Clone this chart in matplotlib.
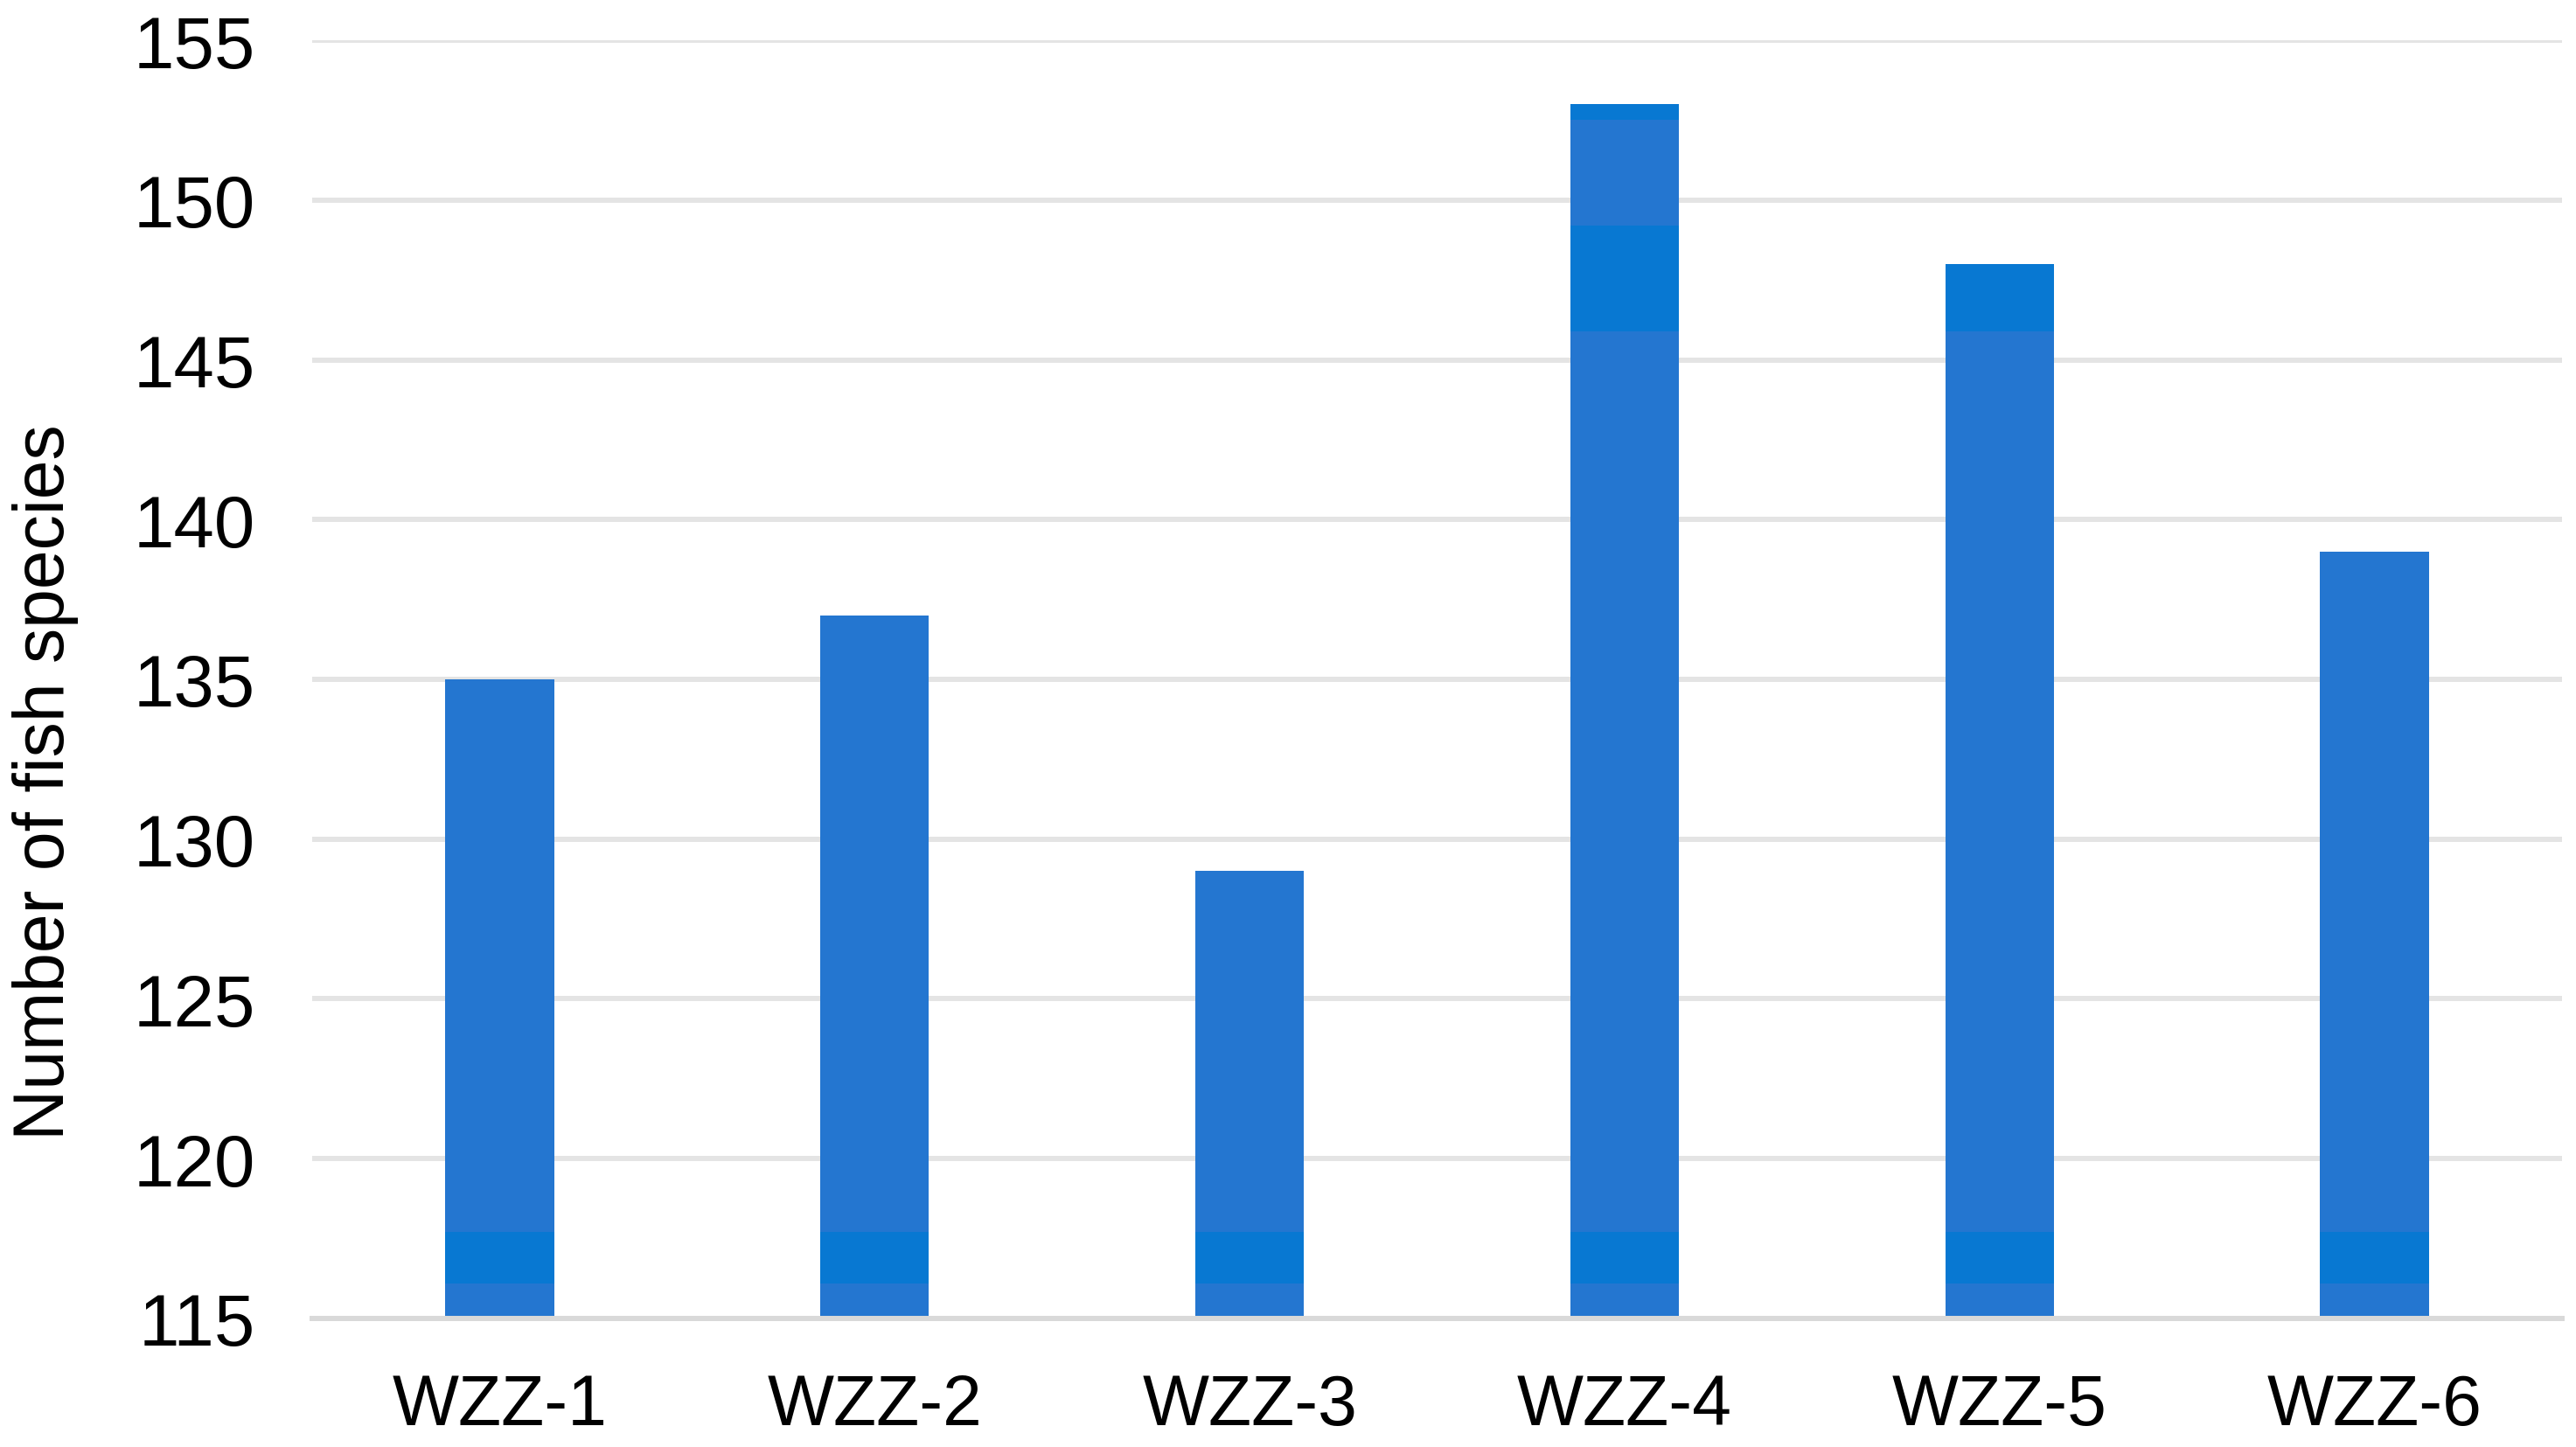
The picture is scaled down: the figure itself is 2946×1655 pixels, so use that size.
import matplotlib
matplotlib.use("Agg")
import matplotlib.pyplot as plt
import numpy as np

# data
sites = ["WZZ-1", "WZZ-2", "WZZ-3", "WZZ-4", "WZZ-5", "WZZ-6"]
species = [135, 137, 129, 153, 148, 139]
y_ticks = [115, 120, 125, 130, 135, 140, 145, 150, 155]

# slightly brighter stripes seen inside the bars of the original
stripes = [(116.1, 117.7), (145.9, 149.2), (152.5, 155.0)]

bar_color = "#2476D0"
stripe_color = "#0878D2"

plt.rcParams["font.family"] = ["Liberation Sans", "DejaVu Sans"]

fig = plt.figure(figsize=(29.46, 16.56), dpi=100)
ax = fig.add_axes([0.1212, 0.0888, 0.8734, 0.8828])

x = np.arange(len(sites))
width = 0.29
base = y_ticks[0]

ax.bar(x, np.array(species) - base, bottom=base, width=width,
       color=bar_color, zorder=3)

for lo, hi in stripes:
    tops = np.minimum(species, hi)
    heights = np.clip(tops - lo, 0, None)
    ax.bar(x, heights, bottom=lo, width=width, color=stripe_color, zorder=3)

ax.set_xlim(-0.5, len(sites) - 0.5)
ax.set_ylim(y_ticks[0], y_ticks[-1])
ax.set_yticks(y_ticks)
ax.set_xticks(x)
ax.set_xticklabels(sites)

ax.grid(axis="y", color="#E4E4E4", linewidth=4.3, zorder=0)
ax.set_axisbelow(True)

for side in ["top", "right", "left"]:
    ax.spines[side].set_visible(False)
ax.spines["bottom"].set_color("#D9D9D9")
ax.spines["bottom"].set_linewidth(4.3)
ax.spines["bottom"].set_zorder(4)

ax.tick_params(axis="y", length=0, pad=47, labelsize=60)
ax.tick_params(axis="x", length=0, pad=45, labelsize=58)

fig.text(0.0175, 0.46, "Number of fish species", rotation=90,
         ha="center", va="center", fontsize=58)

fig.savefig("out.png", dpi=100, facecolor="white")
